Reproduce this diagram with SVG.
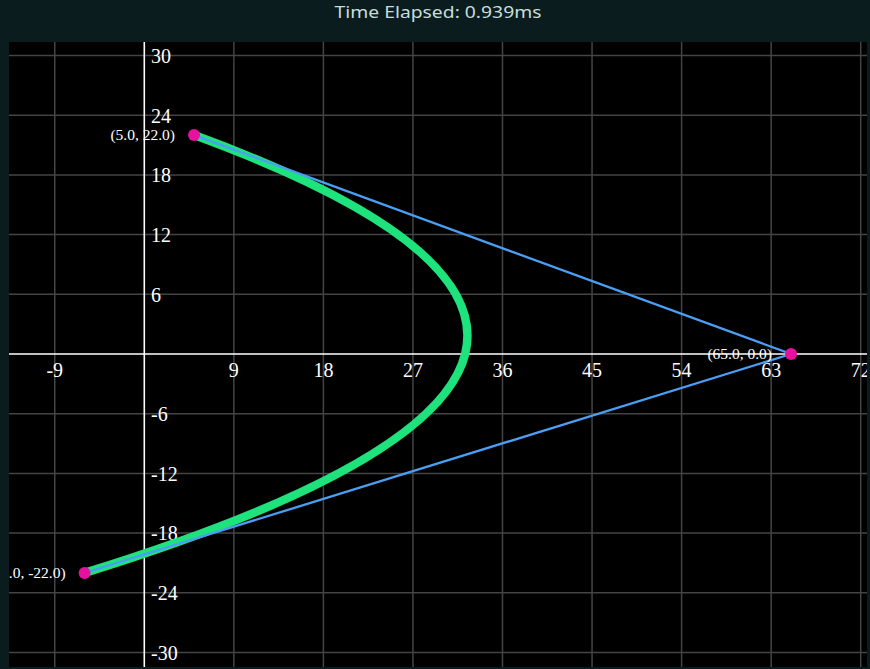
<svg xmlns="http://www.w3.org/2000/svg" width="870" height="669" viewBox="0 0 870 669">
<defs>
<style>
.grid{stroke:#444;stroke-width:1.5;fill:none}
.axis{stroke:#fff;stroke-width:1.6;fill:none}
.lbl{font-family:"Liberation Serif","Times New Roman",serif;font-size:20px;fill:#fff}
.xl{text-anchor:middle}
.pl{font-family:"Liberation Serif","Times New Roman",serif;font-size:15.5px;fill:#fff;text-anchor:end}
.poly{stroke:#4a9ff5;stroke-width:2.3;fill:none}
.curve{stroke:#1ee27c;stroke-width:8.5;fill:none}
.pt{fill:#e8109f}
</style>
<clipPath id="plot"><rect x="9" y="42" width="858" height="625"/></clipPath>
</defs>
<rect x="0" y="0" width="870" height="669" fill="#0a1c1e"/>
<text x="438" y="18" font-family="Noto Sans, sans-serif" font-size="17" fill="#c8dcdc" text-anchor="middle" textLength="207" lengthAdjust="spacingAndGlyphs">Time Elapsed: 0.939ms</text>
<rect x="9" y="42" width="858" height="625" fill="#000"/>
<g clip-path="url(#plot)">
<g id="grid">
<path class="grid" d="M54.75 42V667M233.85 42V667M323.4 42V667M412.95 42V667M502.5 42V667M592.05 42V667M681.6 42V667M771.15 42V667M860.7 42V667"/>
<path class="grid" d="M9 55.5H867M9 115.2H867M9 174.9H867M9 234.6H867M9 294.3H867M9 413.7H867M9 473.4H867M9 533.1H867M9 592.8H867M9 652.5H867"/>
</g>
<g id="axes">
<path class="axis" d="M9 354H867M144.3 42V667"/>
</g>
<g id="axis-labels">
<text class="lbl xl" x="54.75" y="377">-9</text>
<text class="lbl xl" x="233.85" y="377">9</text>
<text class="lbl xl" x="323.4" y="377">18</text>
<text class="lbl xl" x="412.95" y="377">27</text>
<text class="lbl xl" x="502.5" y="377">36</text>
<text class="lbl xl" x="592.05" y="377">45</text>
<text class="lbl xl" x="681.6" y="377">54</text>
<text class="lbl xl" x="771.15" y="377">63</text>
<text class="lbl xl" x="860.7" y="377">72</text>
<text class="lbl" x="151" y="62.8">30</text>
<text class="lbl" x="151" y="122.5">24</text>
<text class="lbl" x="151" y="182.2">18</text>
<text class="lbl" x="151" y="241.9">12</text>
<text class="lbl" x="151" y="301.6">6</text>
<text class="lbl" x="151" y="421">-6</text>
<text class="lbl" x="151" y="480.7">-12</text>
<text class="lbl" x="151" y="540.4">-18</text>
<text class="lbl" x="151" y="600.1">-24</text>
<text class="lbl" x="151" y="659.8">-30</text>
</g>
<g id="curve">
<path class="curve" d="M194.05 135.1Q791 354 84.6 572.9"/>
</g>
<g id="connectors">
<path class="poly" d="M194.05 135.1L791 354L84.6 572.9"/>
</g>
<g id="p0"><circle class="pt" cx="194.05" cy="135.1" r="6"/><text class="pl" x="175" y="140.3">(5.0, 22.0)</text></g>
<g id="p1"><circle class="pt" cx="791" cy="354" r="6"/><text class="pl" x="772" y="359.2">(65.0, 0.0)</text></g>
<g id="p2"><circle class="pt" cx="84.6" cy="572.9" r="6"/><text class="pl" x="65.6" y="578.1">(-6.0, -22.0)</text></g>
</g>
</svg>
